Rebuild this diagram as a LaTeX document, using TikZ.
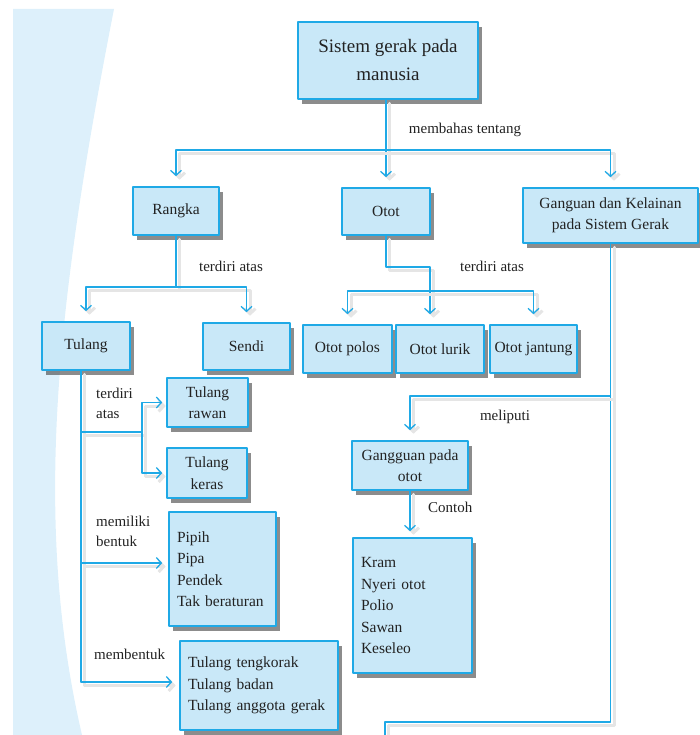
\documentclass[tikz,border=0pt]{standalone}
\usepackage{fontspec}
\setmainfont{Liberation Serif}
\usetikzlibrary{arrows.meta,shadows}

\definecolor{cyanline}{HTML}{1FA9E6}
\definecolor{boxfill}{HTML}{C9E8F8}
\definecolor{bandfill}{HTML}{DDF0FB}
\definecolor{inktext}{HTML}{222222}
\newcommand{\topfont}{\fontsize{19}{28}\selectfont}
\newcommand{\boxfont}{\fontsize{15.5}{21.5}\selectfont}
\newcommand{\lblfont}{\fontsize{15}{20}\selectfont}

\begin{document}
\begin{tikzpicture}[x=1pt, y=-1pt, line cap=round, line join=round,
        box/.style={draw=cyanline, fill=boxfill, line width=1.6pt, text=inktext,
            drop shadow={shadow xshift=4pt, shadow yshift=-5pt, fill=black!75, opacity=.6},
            font=\boxfont, align=center, inner sep=2pt},
        listbox/.style={box, align=left, inner xsep=8pt},
        wire/.style={draw=cyanline, line width=1.3pt,
            preaction={draw=black!10, line width=3pt, transform canvas={xshift=3.5pt, yshift=-3.5pt}}},
        arrow/.style={wire, -{Straight Barb[length=5pt, width=11pt]}, shorten >=10pt},
        dblarrow/.style={wire, {Straight Barb[length=5pt, width=11pt]}-{Straight Barb[length=5pt, width=11pt]},
            shorten >=10pt, shorten <=10pt},
        lbl/.style={text=inktext, font=\lblfont, inner sep=0pt}]

            \useasboundingbox (0,0) rectangle (699,735);
            \fill[bandfill] (13,9) -- (114,9) .. controls (57,300) and (32,520) .. (82,735) -- (13,735) -- cycle;

            \node[box, minimum width=180pt, minimum height=77pt, font=\topfont] (sistem) at (388,60.5) {Sistem gerak pada\\manusia};

            \node[box, minimum width=86pt, minimum height=48pt] (rangka) at (176,211) {Rangka};
            \node[box, minimum width=88pt, minimum height=47pt] (otot) at (386,211.5) {Otot};
            \node[box, minimum width=175pt, minimum height=55pt] (gangguan) at (610.5,215.5) {Ganguan dan Kelainan\\pada Sistem Gerak};

            \node[box, minimum width=88pt, minimum height=48pt] (tulang) at (86,346) {Tulang};
            \node[box, minimum width=87pt, minimum height=47pt] (sendi) at (246.5,346.5) {Sendi};
            \node[box, minimum width=89pt, minimum height=48pt] (polos) at (347.5,349) {Otot polos};
            \node[box, minimum width=88pt, minimum height=48pt] (lurik) at (440,349) {Otot lurik};
            \node[box, minimum width=87pt, minimum height=48pt] (jantung) at (533.5,349) {Otot jantung};

            \node[box, minimum width=81pt, minimum height=49pt] (rawan) at (207.5,402.5) {Tulang\\rawan};
            \node[box, minimum width=80pt, minimum height=50pt] (keras) at (207,473) {Tulang\\keras};
            \node[listbox, text width=91pt, minimum height=114pt] (bentuk) at (222.5,569) {Pipih\\Pipa\\Pendek\\Tak beraturan};
            \node[listbox, text width=142pt, minimum height=89pt] (tubuh) at (259,685.5) {Tulang tengkorak\\Tulang badan\\Tulang anggota gerak};

            \node[box, minimum width=116pt, minimum height=49pt] (ggotot) at (410,465.5) {Gangguan pada\\otot};
            \node[listbox, text width=103pt, minimum height=135pt] (contoh) at (412.5,605.5) {Kram\\Nyeri otot\\Polio\\Sawan\\Keseleo};

            % top level
            \coordinate (hub) at (386,150);
            \draw[arrow] (sistem.south -| otot.north) -- (otot.north);
            \draw[dblarrow] (rangka.north) |- (hub) -| (gangguan.north);
            \node[lbl] (lmembahas) at (465,130) {membahas tentang};

            % rangka
            \coordinate (hubr) at (176,287);
            \draw[wire] (rangka.south) -- (hubr);
            \draw[dblarrow] (tulang.north) |- (hubr) -| (sendi.north);
            \node[lbl] (lterdiri1) at (231,266) {terdiri atas};

            % otot
            \coordinate (bend) at (430,267);
            \coordinate (hubo) at (440,291);
            \draw[arrow] (otot.south) |- (bend) -- (bend |- lurik.north);
            \draw[dblarrow] (polos.north) |- (hubo) -| (jantung.north);
            \node[lbl] (lterdiri2) at (492,266) {terdiri atas};

            % gangguan
            \coordinate (split) at (610.5,396);
            \coordinate (corner) at (610.5,722);
            \coordinate (exit) at (385,740);
            \draw[wire] (gangguan.south) -- (corner) -| (exit);
            \draw[arrow] (split) -| (ggotot.north);
            \draw[arrow, shorten >=6pt] (ggotot.south) -- (ggotot.south |- contoh.north);
            \node[lbl] (lmeliputi) at (505,417) {meliputi};
            \node[lbl, anchor=west] (lcontoh) at (428,507) {Contoh};

            % tulang
            \coordinate (t1) at (81,432);
            \coordinate (t2) at (81,563);
            \coordinate (t3) at (81,682);
            \coordinate (fork) at (142,432);
            \draw[wire] (tulang.south -| t1) -- (t3);
            \draw[wire] (t1) -- (fork);
            \draw[arrow, shorten >=4pt] (fork) |- (rawan.west);
            \draw[arrow, shorten >=4pt] (fork) |- (keras.west);
            \draw[arrow, shorten >=6pt] (t2) -- (t2 -| bentuk.west);
            \draw[arrow, shorten >=7pt] (t3) -- (t3 -| tubuh.west);
            \node[lbl, anchor=west, align=left] (lterdiri3) at (96,403) {terdiri\\atas};
            \node[lbl, anchor=west, align=left] (lmemiliki) at (96,531) {memiliki\\bentuk};
            \node[lbl, anchor=west] (lmembentuk) at (94,654) {membentuk};

        \end{tikzpicture}
\end{document}
